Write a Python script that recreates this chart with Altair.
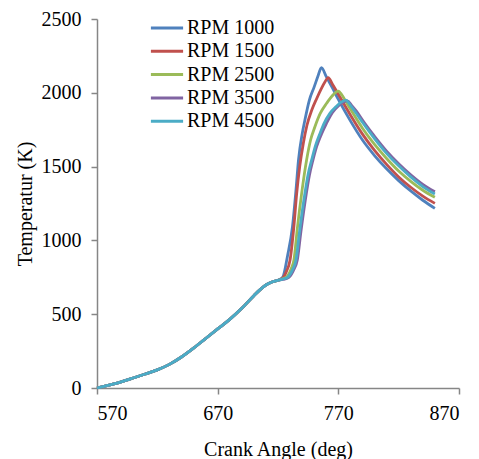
import altair as alt
import pandas as pd

series = ["RPM 1000", "RPM 1500", "RPM 2500", "RPM 3500", "RPM 4500"]
colors = ["#4F81BD", "#C0504D", "#9BBB59", "#8064A2", "#4BACC6"]

# common compression part (all speeds coincide)
x_common = [570, 580, 590, 600, 610, 620, 630, 640, 650, 660, 670, 680, 690, 700, 705, 710, 715, 720]
t_common = [0, 20, 42, 68, 95, 123, 160, 210, 270, 335, 400, 465, 540, 625, 665, 698, 718, 730]

x_1000 = [724, 728, 732, 735, 737, 740, 742.3, 746, 750, 753, 756, 760, 765, 770, 780, 790, 800, 810, 820, 830, 840, 850]
t_1000 = [752, 900, 1093, 1350, 1545, 1720, 1816, 1951, 2040, 2110, 2170, 2110, 2035, 1955, 1810, 1680, 1575, 1485, 1405, 1335, 1272, 1217]

x_1500 = [724, 727, 730, 733, 735.5, 738, 741, 744, 748, 752, 756, 759, 761.6, 765, 770, 780, 790, 800, 810, 820, 830, 840, 850]
t_1500 = [745, 790, 867, 1080, 1319, 1500, 1658, 1780, 1883, 1960, 2030, 2075, 2103, 2060, 1990, 1850, 1720, 1610, 1515, 1430, 1360, 1300, 1251]

x_2500 = [724, 728, 731, 733.2, 736, 739.6, 743.7, 747, 750.6, 755, 760.3, 765, 769.9, 773, 777, 780, 790, 800, 810, 820, 830, 840, 850]
t_2500 = [740, 760, 810, 867, 1080, 1319, 1545, 1680, 1770, 1860, 1929, 1980, 2012, 1985, 1930, 1890, 1760, 1650, 1555, 1470, 1400, 1340, 1292]

x_3500 = [724, 729, 733, 736, 739, 743.5, 746, 749, 752, 756, 760, 765, 770, 774, 777.5, 781, 786, 790, 800, 810, 820, 830, 840, 850]
t_3500 = [735, 750, 800, 867, 1060, 1319, 1440, 1545, 1635, 1720, 1790, 1865, 1910, 1935, 1945, 1915, 1865, 1815, 1705, 1605, 1520, 1445, 1380, 1330]

x_4500 = [724, 728, 732, 734.9, 738, 742.3, 745, 747.9, 751, 754.8, 758, 763, 768, 772, 776.3, 780, 785, 790, 800, 810, 820, 830, 840, 850]
t_4500 = [738, 750, 800, 867, 1070, 1319, 1450, 1545, 1640, 1725, 1790, 1861, 1905, 1935, 1951, 1915, 1860, 1800, 1690, 1590, 1505, 1430, 1365, 1314]

x_ticks = [570, 670, 770, 870]
y_ticks = [0, 500, 1000, 1500, 2000, 2500]

rows = []
tails = [(x_1000, t_1000), (x_1500, t_1500), (x_2500, t_2500), (x_3500, t_3500), (x_4500, t_4500)]
for i, (s, (xs, ts)) in enumerate(zip(series, tails)):
    for xv, tv in zip(x_common + xs, t_common + ts):
        rows.append({"series": s, "order": i, "angle": xv, "temp": tv})
df = pd.DataFrame(rows)

font = "Liberation Serif"

chart = alt.Chart(df).mark_line(strokeWidth=2.8, interpolate="monotone").encode(
    x=alt.X("angle:Q", scale=alt.Scale(domain=[570, 870], nice=False, zero=False),
            axis=alt.Axis(values=x_ticks, format="d", title="Crank Angle (deg)",
                          labelPadding=9, titlePadding=16)),
    y=alt.Y("temp:Q", scale=alt.Scale(domain=[0, 2500], nice=False),
            axis=alt.Axis(values=y_ticks, format="d", title="Temperatur (K)",
                          labelPadding=10, titlePadding=6)),
    color=alt.Color("series:N", scale=alt.Scale(domain=series, range=colors),
                    legend=alt.Legend(title=None, orient="none", legendX=57, legendY=-4,
                                      symbolType="M-1.4,0H1.4", symbolSize=529,
                                      symbolStrokeWidth=3, labelOffset=7, padding=0,
                                      rowPadding=0.3, labelFont=font, labelFontSize=20,
                                      labelColor="black")),
    detail="order:O",
).properties(
    width=362, height=369,
    autosize=alt.AutoSizeParams(type="none"),
    padding={"left": 89, "top": 11, "right": 12, "bottom": 80},
).configure_view(stroke=None).configure_axis(
    grid=False, labelFont=font, labelFontSize=20, labelColor="black",
    titleFont=font, titleFontSize=20, titleFontWeight="normal", titleColor="black",
    domainColor="#868686", tickColor="#868686", domainWidth=1.5, tickWidth=1.5,
    tickSize=6,
)

chart.save("out.html", embed_options={"renderer": "svg", "actions": False})
